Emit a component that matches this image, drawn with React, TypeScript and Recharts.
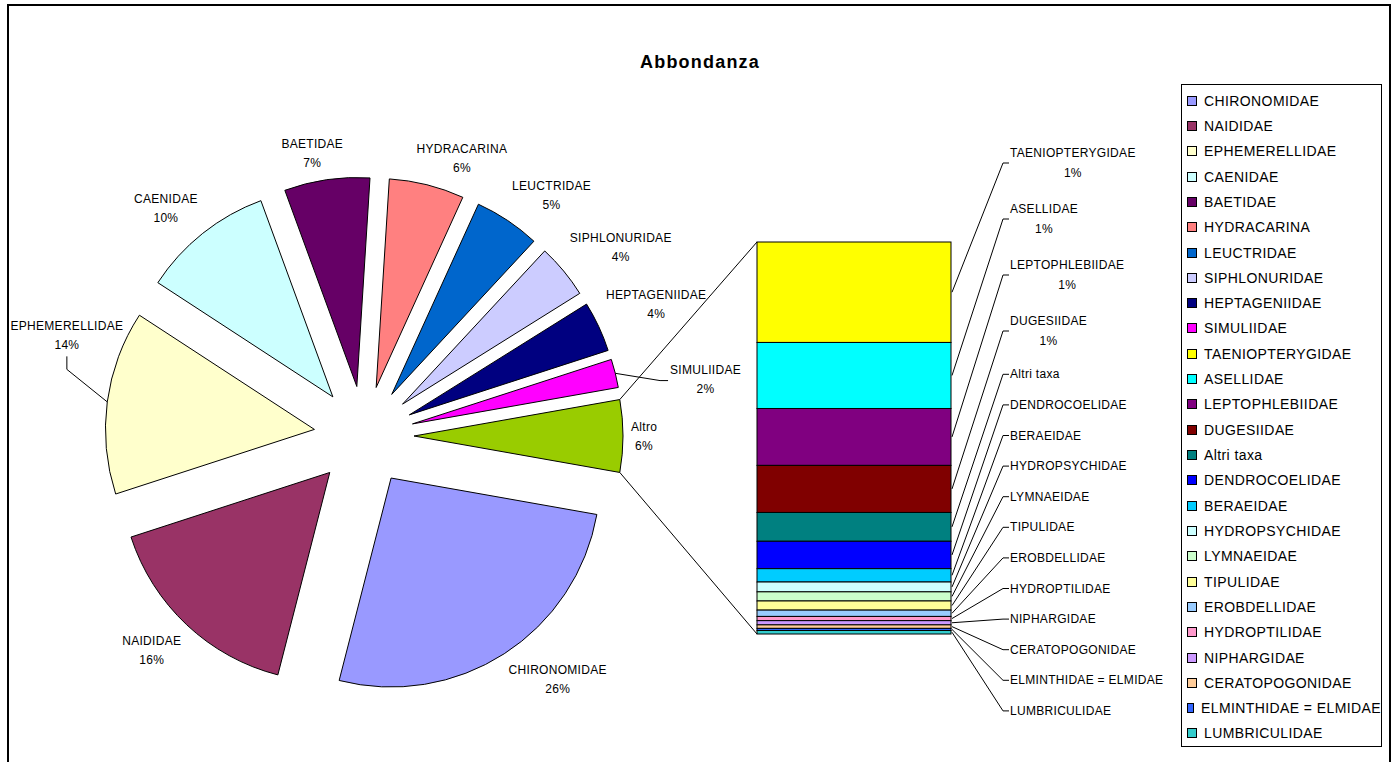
import React from 'react';
import { PieChart, Pie, Cell, Sector, BarChart, Bar, XAxis, YAxis } from 'recharts';

// ---------------- DATA ----------------
const mainNames = ['CHIRONOMIDAE', 'NAIDIDAE', 'EPHEMERELLIDAE', 'CAENIDAE', 'BAETIDAE', 'HYDRACARINA', 'LEUCTRIDAE', 'SIPHLONURIDAE', 'HEPTAGENIIDAE', 'SIMULIIDAE'];
const mainValues = [26.2, 16.0, 14.2, 10.2, 6.6, 5.8, 5.1, 4.2, 3.9, 2.2];
const mainColors = ['#9999FF', '#993366', '#FFFFCC', '#CCFFFF', '#660066', '#FF8080', '#0066CC', '#CCCCFF', '#000080', '#FF00FF'];

const otherName = 'Altro';
const otherColor = '#99CC00';

const subNames = ['TAENIOPTERYGIDAE', 'ASELLIDAE', 'LEPTOPHLEBIIDAE', 'DUGESIIDAE', 'Altri taxa', 'DENDROCOELIDAE', 'BERAEIDAE', 'HYDROPSYCHIDAE', 'LYMNAEIDAE', 'TIPULIDAE', 'EROBDELLIDAE', 'HYDROPTILIDAE', 'NIPHARGIDAE', 'CERATOPOGONIDAE', 'ELMINTHIDAE = ELMIDAE', 'LUMBRICULIDAE'];
const subValues = [1.43, 0.94, 0.81, 0.67, 0.41, 0.39, 0.19, 0.14, 0.13, 0.13, 0.09, 0.06, 0.06, 0.05, 0.03, 0.05];
const subColors = ['#FFFF00', '#00FFFF', '#800080', '#800000', '#008080', '#0000FF', '#00CCFF', '#CCFFFF', '#CCFFCC', '#FFFF99', '#99CCFF', '#FF99CC', '#CC99FF', '#FFCC99', '#3366FF', '#33CCCC'];

const title = 'Abbondanza';

// ---------------- DERIVED ----------------
const otherValue = subValues.reduce((a, b) => a + b, 0);
const pieNames = [...mainNames, otherName];
const pieValues = [...mainValues, otherValue];
const pieColors = [...mainColors, otherColor];
const total = pieValues.reduce((a, b) => a + b, 0);
const pieData = pieNames.map((n, i) => ({ name: n, value: pieValues[i] }));
const barRow: Record<string, any> = { name: otherName };
subNames.forEach((n, i) => { barRow[n] = subValues[i]; });
const barData = [barRow];
const otherDeg = (otherValue / total) * 360;
const START = -otherDeg / 2;

// ---------------- LAYOUT ----------------
const W = 1396;
const H = 762;
const FONT = '"Liberation Sans", Arial, sans-serif';
const PIE_CX = 364;
const PIE_CY = 436;
const PIE_R = 209;
const EXPLODE = 50;
const LABEL_GAP = 8;
const LABEL_K = 3;
const BAR_M = { left: 757, right: W - 951, top: 242, bottom: H - 634 };
const LABEL_SHIFT: Record<string, [number, number]> = { EPHEMERELLIDAE: [24, -58], SIMULIIDAE: [47, 21] };
const SUB_LABEL_START = 163;
const SUB_TICK_X = 1003;
const SUB_TEXT_X = 1010;
const RAD = Math.PI / 180;

let ctx: CanvasRenderingContext2D | null = null;
function measure(t: string, size = 12, ls = 0.3) {
  if (!ctx) ctx = document.createElement('canvas').getContext('2d');
  if (!ctx) return t.length * size * 0.65;
  ctx.font = `${size}px "Liberation Sans"`;
  return ctx.measureText(t).width + ls * t.length;
}

const pctText = (v: number) => Math.round((v / total) * 100);
const clamp = (v: number) => Math.max(-1, Math.min(1, v));

// vertical positions of the bar labels (stacked text blocks)
const subLabelY: number[] = [];
{
  const half = (i: number) => (pctText(subValues[i]) >= 1 ? 28 : 15.3);
  subValues.forEach((_, i) => {
    subLabelY.push(i === 0 ? SUB_LABEL_START : subLabelY[i - 1] + half(i - 1) + half(i));
  });
}

const txt = { fontFamily: FONT, fontSize: 12, letterSpacing: 0.3, fill: '#000' } as const;

// ---------------- PIE SHAPES ----------------
const ExplodedSector = (props: any) => {
  const { cx, cy, midAngle, outerRadius, startAngle, endAngle, fill } = props;
  const ox = cx + EXPLODE * Math.cos(-midAngle * RAD);
  const oy = cy + EXPLODE * Math.sin(-midAngle * RAD);
  return (
    <Sector cx={ox} cy={oy} innerRadius={0} outerRadius={outerRadius} startAngle={startAngle} endAngle={endAngle}
      fill={fill} stroke="#000" strokeWidth={1} />
  );
};

const PieLabel = (props: any) => {
  const { cx, cy, midAngle, outerRadius, index } = props;
  const name = pieNames[index];
  const pct = `${pctText(pieValues[index])}%`;
  const dx = Math.cos(-midAngle * RAD);
  const dy = Math.sin(-midAngle * RAD);
  const ex = cx + EXPLODE * dx;
  const ey = cy + EXPLODE * dy;
  const px = ex + (outerRadius + LABEL_GAP) * dx;
  const py = ey + (outerRadius + LABEL_GAP) * dy;
  const w = Math.max(measure(name), measure(pct));
  const h = 38;
  let lx = px + (clamp(dx * LABEL_K) * w) / 2;
  let ly = py + (clamp(dy * LABEL_K) * h) / 2;
  const shift = LABEL_SHIFT[name];
  let leader: React.ReactNode = null;
  if (shift) {
    lx += shift[0];
    ly += shift[1];
    const ax = ex + outerRadius * dx;
    const ay = ey + outerRadius * dy;
    if (Math.abs(shift[1]) > Math.abs(shift[0])) {
      const bx = lx;
      const by = ly + h / 2 + 2;
      leader = <polyline points={`${ax},${ay} ${bx},${by + 13} ${bx},${by}`} fill="none" stroke="#000" strokeWidth={1} />;
    } else {
      const bx = lx - w / 2 - 2;
      leader = <polyline points={`${ax},${ay} ${bx - 8},${ly + 2} ${bx},${ly + 2}`} fill="none" stroke="#000" strokeWidth={1} />;
    }
  }
  return (
    <g>
      {leader}
      <text x={lx} y={ly - 9} textAnchor="middle" dominantBaseline="central" style={txt}>{name}</text>
      <text x={lx} y={ly + 10} textAnchor="middle" dominantBaseline="central" style={txt}>{pct}</text>
    </g>
  );
};

// ---------------- BAR SHAPES ----------------
const makeBarShape = (i: number) => (props: any) => {
  let { x, y, width, height } = props;
  if (height < 0) { y += height; height = -height; }
  const right = x + width;
  const midY = y + height / 2;
  const ly = subLabelY[i];
  const name = subNames[i];
  const p = pctText(subValues[i]);
  const half = otherDeg / 2;
  const ecx = PIE_CX + EXPLODE;
  const ecy = PIE_CY;
  const els: React.ReactNode[] = [];
  els.push(<rect key="r" x={x} y={y} width={width} height={height} fill={subColors[i]} stroke="#000" strokeWidth={1} />);
  els.push(<polyline key="l" points={`${right + 1},${midY} ${SUB_TICK_X},${ly} ${SUB_TICK_X + 6},${ly}`} fill="none" stroke="#000" strokeWidth={1} />);
  if (p >= 1) {
    const w = measure(name);
    els.push(<text key="t1" x={SUB_TEXT_X + w / 2} y={ly - 10} textAnchor="middle" dominantBaseline="central" style={txt}>{name}</text>);
    els.push(<text key="t2" x={SUB_TEXT_X + w / 2} y={ly + 10} textAnchor="middle" dominantBaseline="central" style={txt}>{`${p}%`}</text>);
  } else {
    els.push(<text key="t1" x={SUB_TEXT_X} y={ly} textAnchor="start" dominantBaseline="central" style={txt}>{name}</text>);
  }
  if (i === 0) {
    const px = ecx + PIE_R * Math.cos(half * RAD);
    const py = ecy - PIE_R * Math.sin(half * RAD);
    els.push(<line key="c" x1={px} y1={py} x2={x} y2={y} stroke="#000" strokeWidth={1} />);
  }
  if (i === subNames.length - 1) {
    const px = ecx + PIE_R * Math.cos(half * RAD);
    const py = ecy + PIE_R * Math.sin(half * RAD);
    els.push(<line key="c" x1={px} y1={py} x2={x} y2={y + height} stroke="#000" strokeWidth={1} />);
  }
  return <g>{els}</g>;
};

// ---------------- LEGEND ----------------
const legendNames = [...mainNames, ...subNames];
const legendColors = [...mainColors, ...subColors];

export default function App() {
  return (
    <div style={{ position: 'absolute', left: 0, top: 0, width: W, height: H, background: '#fff', overflow: 'hidden', fontFamily: FONT }}>
      <div style={{ position: 'absolute', left: 7, top: 4, width: 1384, height: 800, border: '2px solid #000', boxSizing: 'border-box' }} />
      <div style={{ position: 'absolute', left: 0, top: 50, width: 1400, textAlign: 'center', fontWeight: 'bold', fontSize: 18, letterSpacing: 1.2, lineHeight: '24px', color: '#000' }}>
        {title}
      </div>
      <div style={{ position: 'absolute', left: 0, top: 0 }}>
        <PieChart width={W} height={H} margin={{ top: 0, right: 0, bottom: 0, left: 0 }}>
          <Pie
            data={pieData}
            dataKey="value"
            nameKey="name"
            cx={PIE_CX}
            cy={PIE_CY}
            innerRadius={0}
            outerRadius={PIE_R}
            startAngle={START}
            endAngle={START - 360}
            stroke="#000"
            strokeWidth={1}
            isAnimationActive={false}
            shape={ExplodedSector}
            label={PieLabel}
            labelLine={false}
          >
            {pieData.map((d, i) => (
              <Cell key={d.name} fill={pieColors[i]} />
            ))}
          </Pie>
        </PieChart>
      </div>
      <div style={{ position: 'absolute', left: 0, top: 0 }}>
        <BarChart width={W} height={H} data={barData} margin={BAR_M} barCategoryGap={0} barGap={0}>
          <XAxis dataKey="name" type="category" hide />
          <YAxis type="number" domain={[0, otherValue]} reversed hide />
          {subNames.map((n, i) => (
            <Bar key={n} dataKey={n} stackId="s" fill={subColors[i]} isAnimationActive={false} shape={makeBarShape(i)} />
          ))}
        </BarChart>
      </div>
      <div style={{ position: 'absolute', left: 1181, top: 84, width: 201, height: 663, border: '1px solid #000', boxSizing: 'border-box', paddingTop: 3 }}>
        {legendNames.map((n, i) => (
          <div key={n} style={{ height: 25.32, display: 'flex', alignItems: 'center' }}>
            <div style={{ width: 8, height: 8, marginLeft: 5, marginRight: 7, background: legendColors[i], border: '1px solid #000' }} />
            <span style={{ fontSize: 14, letterSpacing: 0.4, color: '#000', whiteSpace: 'nowrap' }}>{n}</span>
          </div>
        ))}
      </div>
    </div>
  );
}
